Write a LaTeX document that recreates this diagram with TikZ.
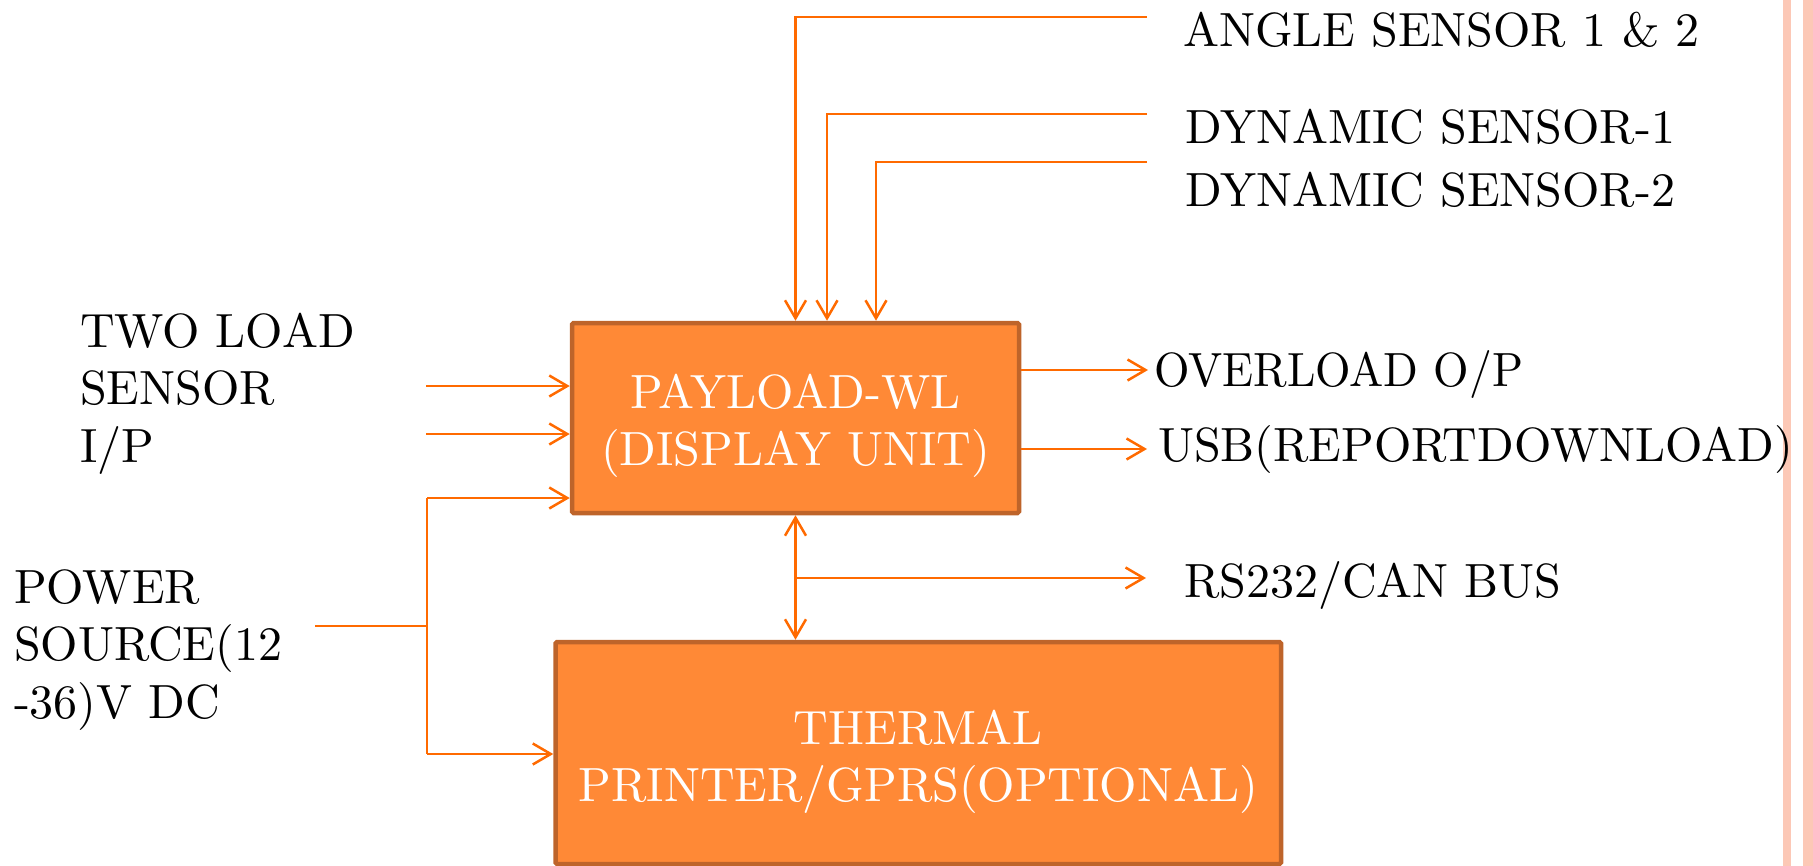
\documentclass[tikz,border=0pt]{standalone}
\usetikzlibrary{arrows.meta}
\definecolor{wirec}{RGB}{255,106,0}
\definecolor{boxfill}{RGB}{255,137,54}
\definecolor{boxline}{RGB}{190,100,42}
\definecolor{stripec}{RGB}{252,200,182}
\tikzset{
  wire/.style={draw=wirec, line width=0.5pt},
  arr/.style={wire, -{Straight Barb[length=3.6pt,width=4.2pt]}},
  dblarr/.style={wire, {Straight Barb[length=3.6pt,width=4.2pt]}-{Straight Barb[length=3.6pt,width=4.2pt]}},
  blk/.style={draw=boxline, fill=boxfill, line width=0.9pt, inner sep=0pt, rounded corners=0.3pt},
  lbl/.style={anchor=base west, inner sep=0pt, font=\fontsize{9.6}{11.5}\selectfont, text=black},
  boxtxt/.style={anchor=base, inner sep=0pt, font=\fontsize{9.6}{11.5}\selectfont, text=white},
}
\begin{document}
\begin{tikzpicture}[x=0.2pt,y=-0.2pt]
\useasboundingbox (0,0) rectangle (1813,866);
% decorative stripes
\fill[stripec] (1783,0) rectangle (1791,866);
\fill[stripec] (1803,0) rectangle (1813,866);

% blocks
\node[blk, minimum width=89.4pt, minimum height=38pt] (pay) at (795.5,418) {};
\node[blk, minimum width=145.1pt, minimum height=44.4pt] (therm) at (918.25,753) {};
\node[boxtxt] (paytxt) at (795.5,408) {\begin{tabular}[t]{@{}c@{}}PAYLOAD-WL\\(DISPLAY UNIT)\end{tabular}};
\node[boxtxt] (thermtxt) at (918.25,744) {\begin{tabular}[t]{@{}c@{}}THERMAL\\PRINTER/GPRS(OPTIONAL)\end{tabular}};

% labels
\node[lbl] (angle) at (1182,46) {ANGLE SENSOR 1 \& 2};
\node[lbl] (dyn1) at (1184,143) {DYNAMIC SENSOR-1};
\node[lbl] (dyn2) at (1184,206) {DYNAMIC SENSOR-2};
\node[lbl] (ovl) at (1153,386) {\scalebox{0.95}[1]{OVERLOAD O/P}};
\node[lbl] (usb) at (1157,461) {USB(REPORTDOWNLOAD)};
\node[lbl] (rs) at (1183,597) {RS232/CAN BUS};
\node[lbl] (load) at (79,347) {\begin{tabular}[t]{@{}l@{}}TWO LOAD\\SENSOR\\I/P\end{tabular}};
\node[lbl] (power) at (13,603) {\begin{tabular}[t]{@{}l@{}}POWER\\SOURCE(12\\-36)V DC\end{tabular}};

% free ends and corners
\coordinate (a1) at (1147,17);  \coordinate (c1) at (795.5,17);
\coordinate (b1) at (1147,114); \coordinate (c2) at (827,114);
\coordinate (b2) at (1147,162); \coordinate (c3) at (876,162);
\coordinate (l1) at (426,386);
\coordinate (l2) at (426,434);
\coordinate (p0) at (315,626);  \coordinate (p1) at (427,626);
\coordinate (p2) at (427,498);  \coordinate (p3) at (427,754);
\coordinate (o1) at (1148,370);
\coordinate (u1) at (1147,449);
\coordinate (r1) at (1146,578);

% sensor inputs from the top
\draw[arr] (a1) -- (c1) -- (c1 |- pay.north);
\draw[arr] (b1) -- (c2) -- (c2 |- pay.north);
\draw[arr] (b2) -- (c3) -- (c3 |- pay.north);

% load sensor inputs
\draw[arr] (l1) -- (l1 -| pay.west);
\draw[arr] (l2) -- (l2 -| pay.west);

% power source
\draw[wire] (p0) -- (p1);
\draw[wire] (p2) -- (p3);
\draw[arr] (p2) -- (p2 -| pay.west);
\draw[arr] (p3) -- (p3 -| therm.west);

% outputs
\draw[arr] (pay.east |- o1) -- (o1);
\draw[arr] (pay.east |- u1) -- (u1);

% display <-> printer and bus
\draw[dblarr] (pay.south) -- (pay.south |- therm.north);
\draw[arr] (pay.south |- r1) -- (r1);
\end{tikzpicture}
\end{document}
